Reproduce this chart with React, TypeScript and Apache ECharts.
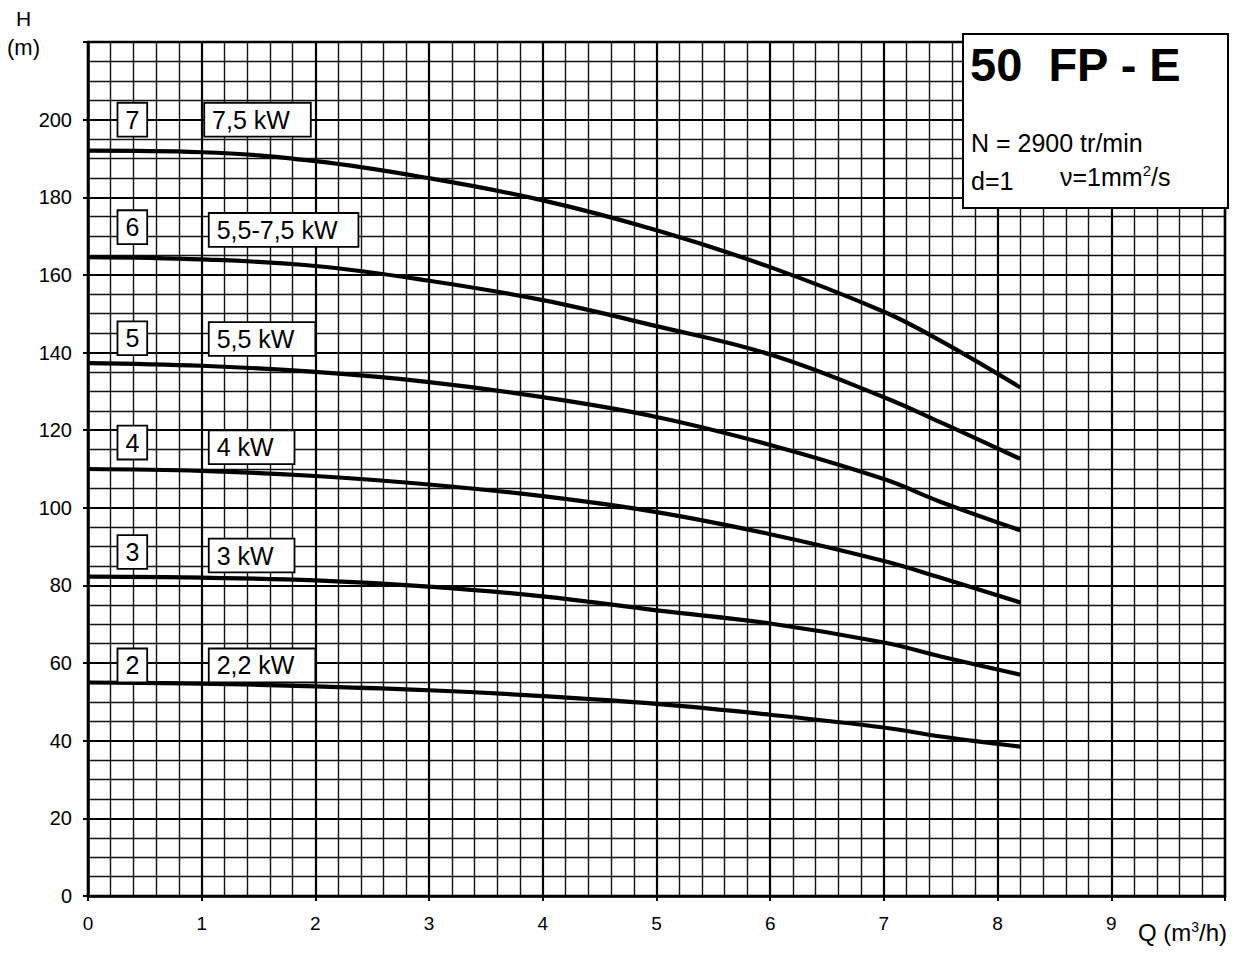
import React, { useEffect, useRef } from "react";
import * as echarts from "echarts";

// Flow rate Q (m3/h) sample points
const flowQ = [0, 1, 2, 3, 4, 5, 6, 7, 7.5, 8.2];

// Head H (m) for each pump stage
const head7 = [192, 191.6, 189.3, 184.9, 179.2, 171.5, 162, 150.5, 143, 131];
const head6 = [164.6, 164, 162.3, 158.5, 153.5, 146.8, 139.5, 128.5, 122, 112.6];
const head5 = [137.3, 136.6, 135, 132.4, 128.5, 123.4, 116.2, 107.4, 101.5, 94.2];
const head4 = [110, 109.5, 108.2, 106, 103, 98.9, 93.2, 86.3, 82, 75.6];
const head3 = [82.3, 82, 81.3, 79.7, 77.2, 73.6, 70.2, 65.3, 61.7, 57];
const head2 = [55, 54.7, 54, 53, 51.5, 49.5, 46.7, 43.4, 41.1, 38.5];

const curves = [head7, head6, head5, head4, head3, head2];

// Stage labels and power labels
const stageLabels = ["7", "6", "5", "4", "3", "2"];
const powerLabels = ["7,5 kW", "5,5-7,5 kW", "5,5 kW", "4 kW", "3 kW", "2,2 kW"];
// Label anchors in data units (Q, H)
const stageAnchorQ = [0.39, 0.39, 0.39, 0.39, 0.39, 0.39];
const stageAnchorH = [200, 172.3, 143.7, 116.8, 88.6, 59.4];
const powerAnchorQ = [1.03, 1.07, 1.07, 1.07, 1.07, 1.07];
const powerAnchorH = [200, 171.6, 143.5, 115.6, 87.7, 59.4];

// Axis tick labels
const qTickLabels = ["0", "1", "2", "3", "4", "5", "6", "7", "8", "9"];
const hTickLabels = ["0", "20", "40", "60", "80", "100", "120", "140", "160", "180", "200"];

const FONT = "Liberation Sans, Arial, sans-serif";

export default function App() {
  const ref = useRef<HTMLDivElement>(null);

  useEffect(() => {
    if (!ref.current) return;
    const chart = echarts.init(ref.current, undefined, { renderer: "svg" });

    const lineSeries = curves.map((c, i) => ({
      type: "line",
      name: "stage" + stageLabels[i],
      data: flowQ.map((q, j) => [q, c[j]]),
      smooth: 0.4,
      showSymbol: false,
      symbol: "none",
      lineStyle: { color: "#000", width: 4.2 },
      z: 5,
    }));

    const boxLabel = {
      backgroundColor: "#fff",
      borderColor: "#000",
      borderWidth: 1.8,
      color: "#000",
      textBorderWidth: 0,
      textBorderColor: "transparent",
      opacity: 1,
      fontFamily: FONT,
      fontSize: 25,
      lineHeight: 26,
    };

    const stageSeries = {
      type: "scatter",
      symbolSize: 0,
      z: 10,
      itemStyle: { opacity: 1, color: "#000" },
      data: stageLabels.map((s, i) => ({ value: [stageAnchorQ[i], stageAnchorH[i]], name: s })),
      label: {
        show: true,
        position: "inside",
        formatter: (p: any) => p.name,
        padding: [4, 7, 2, 7],
        ...boxLabel,
      },
      silent: true,
    };

    const powerSeries = {
      type: "scatter",
      symbolSize: 0,
      z: 10,
      itemStyle: { opacity: 1, color: "#000" },
      data: powerLabels.map((s, i) => ({ value: [powerAnchorQ[i], powerAnchorH[i]], name: s })),
      label: {
        show: true,
        position: "right",
        distance: 0,
        formatter: (p: any) => p.name,
        padding: [4, 20, 2, 7],
        ...boxLabel,
      },
      silent: true,
    };

    chart.setOption({
      animation: false,
      backgroundColor: "#fff",
      grid: {
        left: 88,
        right: 34,
        top: 42,
        bottom: 57,
        show: true,
        borderColor: "#000",
        borderWidth: 2.5,
        backgroundColor: "transparent",
      },
      xAxis: {
        type: "value",
        min: 0,
        max: 10,
        interval: 1,
        axisLine: { show: true, lineStyle: { color: "#000", width: 2.5 } },
        axisTick: { show: true, length: 5, lineStyle: { color: "#000", width: 2 } },
        axisLabel: {
          color: "#000",
          fontFamily: FONT,
          fontSize: 19,
          margin: 18,
          formatter: (v: number) => qTickLabels[Math.round(v)] ?? "",
        },
        splitLine: { show: true, lineStyle: { color: "#000", width: 2.2 } },
        minorTick: { show: false, splitNumber: 5 },
        minorSplitLine: { show: true, lineStyle: { color: "#111", width: 1.4 } },
      },
      yAxis: {
        type: "value",
        min: 0,
        max: 220,
        interval: 20,
        axisLine: { show: true, lineStyle: { color: "#000", width: 2.5 } },
        axisTick: { show: true, length: 5, lineStyle: { color: "#000", width: 2 } },
        axisLabel: {
          color: "#000",
          fontFamily: FONT,
          fontSize: 20,
          margin: 16,
          formatter: (v: number) => hTickLabels[Math.round(v / 20)] ?? "",
        },
        splitLine: { show: true, lineStyle: { color: "#000", width: 2.2 } },
        minorTick: { show: false, splitNumber: 4 },
        minorSplitLine: { show: true, lineStyle: { color: "#111", width: 1.4 } },
      },
      graphic: [
        { type: "text", left: 16, top: 8, style: { text: "H", font: `21px ${FONT}`, fill: "#000" } },
        { type: "text", left: 7, top: 36, style: { text: "(m)", font: `22px ${FONT}`, fill: "#000" } },
        {
          type: "text",
          left: 1138,
          top: 920,
          style: {
            text: "{a|Q (m}{s|3}{a|/h)}",
            rich: {
              a: { fontFamily: FONT, fontSize: 24, fill: "#000", color: "#000" },
              s: { fontFamily: FONT, fontSize: 14, verticalAlign: "top", fill: "#000", color: "#000", padding: [0, 0, 10, 0] },
            },
          },
        },
        {
          type: "group",
          z: 100,
          children: [
            {
              type: "rect",
              shape: { x: 963, y: 34, width: 265, height: 174 },
              style: { fill: "#fff", stroke: "#000", lineWidth: 2 },
              z: 100,
            },
            {
              type: "text",
              x: 970,
              y: 41,
              z: 101,
              style: { text: "50  FP - E", font: `bold 47px ${FONT}`, fill: "#000" },
            },
            {
              type: "text",
              x: 971,
              y: 130,
              z: 101,
              style: { text: "N = 2900 tr/min", font: `25px ${FONT}`, fill: "#000" },
            },
            {
              type: "text",
              x: 971,
              y: 168,
              z: 101,
              style: { text: "d=1", font: `25px ${FONT}`, fill: "#000" },
            },
            {
              type: "text",
              x: 1060,
              y: 163,
              z: 101,
              style: {
                text: "{a|ν=1mm}{s|2}{a|/s}",
                rich: {
                  a: { fontFamily: FONT, fontSize: 25, color: "#000" },
                  s: { fontFamily: FONT, fontSize: 15, color: "#000", verticalAlign: "top", padding: [0, 0, 12, 0] },
                },
              },
            },
          ],
        },
      ],
      series: [...lineSeries, stageSeries, powerSeries],
    });

    return () => chart.dispose();
  }, []);

  return (
    <div
      ref={ref}
      style={{ position: "fixed", left: 0, top: 0, width: 1259, height: 953, background: "#fff" }}
    />
  );
}
